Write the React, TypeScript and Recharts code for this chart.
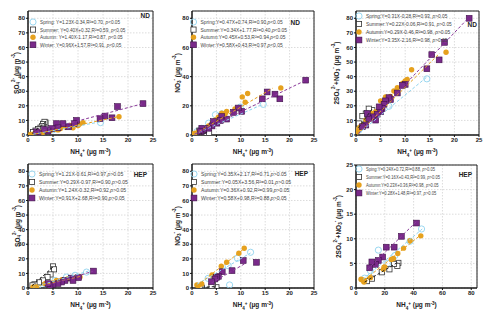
import React from "react";
import { ScatterChart, Scatter, XAxis, YAxis, CartesianGrid, ReferenceArea } from "recharts";

type Pt = [number, number];
type Season = "spring" | "summer" | "autumn" | "winter";
type Part = [string, ("sub" | "sup")?];

const SPRING = "#8fd3ee";
const SUMMER = "#333333";
const AUTUMN = "#e6a11e";
const WINTER = "#7a2a8a";
const WINTER_EDGE = "#3f1149";
const FONT = "'Liberation Sans', Arial, sans-serif";

const seasons: Season[] = ["spring", "summer", "autumn", "winter"];

// ND - SO4
const ndSo4Spring: Pt[] = [[14.5, 8.5], [7.5, 6], [6, 5], [5, 3.5], [4, 3], [3, 2.5], [2, 1.5], [1, 0.5]];
const ndSo4Summer: Pt[] = [[3.5, 8.5], [3.3, 9], [3, 7.5], [2.8, 6], [2.5, 5], [2, 4], [1.5, 3], [1, 2]];
const ndSo4Autumn: Pt[] = [[18.2, 12.5], [11, 8.5], [10.3, 7.5], [10, 6.5], [9, 5], [8.5, 6.5], [7.5, 5.5], [6.5, 4.5], [6, 3.5], [5.5, 4], [4.5, 3], [3.5, 2.5], [3, 1.8], [2.5, 2], [2, 1.5], [1.5, 1], [1, 0.5], [0.5, 0.3]];
const ndSo4Winter: Pt[] = [[23, 21.5], [17.9, 19.5], [16.8, 11.8], [15.4, 13], [14.4, 11.2], [9.7, 10], [9.3, 7.8], [8.1, 5.6], [7, 7.8], [5.7, 7.8], [6, 4.9], [4.7, 4.4], [4, 2.7], [3.3, 3.8], [2, 1.1], [1.7, 2.2]];

// ND - NO3
const ndNo3Spring: Pt[] = [[14.6, 21], [9.9, 19.2], [6.1, 14.5], [4.8, 13.9], [3.4, 8.1], [2, 4.6], [1, 2.3]];
const ndNo3Summer: Pt[] = [[1.5, 3], [2, 1], [2.5, 2], [3, 0.5], [3.5, 1.5]];
const ndNo3Autumn: Pt[] = [[18.2, 32.3], [11.4, 28.4], [10.3, 26.1], [10.9, 22.4], [8.8, 17.8], [7.1, 16.2], [6.8, 14.5], [6.1, 15], [5.4, 12.2], [4.8, 10.4], [4.1, 8.1], [3.4, 6.2], [2.4, 3.9], [1.4, 2.3], [0.7, 1.2], [0.1, 0.7]];
const ndNo3Winter: Pt[] = [[23.3, 37.6], [18, 24.8], [17, 28], [15.4, 29.5], [14.4, 24.8], [10.2, 16.2], [9.5, 18.5], [8.5, 15.5], [7.1, 10.9], [6.1, 12.7], [5.8, 9.9], [5.1, 8.1], [4.4, 9.2], [4.1, 6.2], [3.4, 4.6], [2.4, 3], [2, 4.6], [1.7, 2.3]];

// ND - 2SO4 + NO3
const ndSumSpring: Pt[] = [[14.4, 38.5], [9.8, 35], [6.7, 19.7], [5, 17], [2, 8.4], [0.6, 3.4]];
const ndSumSummer: Pt[] = [[3.3, 17], [2.6, 18], [2, 14.7], [1.3, 12.9], [0.6, 7.9]];
const ndSumAutumn: Pt[] = [[18.3, 56.7], [11.3, 44.7], [10.4, 38], [10, 37], [9.5, 35.5], [8.4, 32.4], [7.7, 30.2], [7, 26.5], [6, 26], [5, 23.4], [4.7, 19.3], [4, 15.9], [3.3, 14.7], [2.6, 12.5], [2, 10.2], [1.3, 6.8], [0.9, 5.7], [0.6, 4.5], [0.3, 2.3]];
const ndSumWinter: Pt[] = [[23, 80], [18, 63.5], [16.9, 51.5], [15.4, 55.1], [14.4, 45.4], [10, 34.7], [9.4, 34], [8.4, 28.8], [7, 24.3], [6.7, 25.6], [6, 23.4], [5.7, 21.1], [5.3, 18.1], [5, 15.9], [4.3, 14.3], [4, 10.2], [3.3, 12.5], [2.6, 11.3], [2, 6.8], [1.3, 5.7], [4.7, 19.3], [2.3, 14.7]];

// HEP - SO4
const hepSo4Spring: Pt[] = [[11.7, 10.9], [9.4, 8.7], [7.7, 7.5], [5.4, 5.2], [3.4, 3], [2, 1.8], [1.3, 0.7]];
const hepSo4Summer: Pt[] = [[5, 14.8], [5.2, 12.8], [4.5, 9.3], [3.9, 7.5], [3, 5.2], [2.2, 3.9], [1.3, 2.5], [0.9, 1.8]];
const hepSo4Autumn: Pt[] = [[10.4, 7.5], [9.1, 7.1], [8, 6.4], [6.8, 5.7], [5.7, 5.2], [5, 3.4], [3.4, 3], [1.7, 0.7], [1.3, 0.2], [1, 0.7]];
const hepSo4Winter: Pt[] = [[13.1, 11.6], [10.1, 7.1], [8.7, 6.8], [9, 5.2], [7.4, 5.2], [6.7, 4.1], [6, 3], [5, 2.5], [4.4, 1.8], [4, 3]];

// HEP - NO3
const hepNo3Spring: Pt[] = [[12, 24.5], [9.3, 20.4], [7.4, 15.3], [7.7, 2.1], [4.7, 7.3], [3.3, 6.6], [2, 0.5]];
const hepNo3Summer: Pt[] = [[5, 0.5], [4.3, 2.1], [4, 1.1], [2, 0.2]];
const hepNo3Autumn: Pt[] = [[10.7, 27.2], [9.6, 23.8], [7.1, 17.6], [6, 14.9], [4.1, 8.9], [2, 2.7], [1, 2.1], [1.3, 1.6]];
const hepNo3Winter: Pt[] = [[13.2, 17.6], [10.5, 18.8], [8.2, 11.9], [6.2, 11.2], [5.4, 8], [5, 7.3], [4.7, 6.2], [4, 4.3]];

// HEP - 2SO4 + NO3
const hepSumSpring: Pt[] = [[45.5, 12], [37.5, 9.5], [15.5, 7.7], [27, 6.6], [22, 5], [10, 3.5], [6, 2]];
const hepSumSummer: Pt[] = [[29.4, 5.1], [28.7, 4.5], [26.4, 4.9], [23.2, 3.8], [17.9, 3.2], [11, 1.9], [7.6, 1.4]];
const hepSumAutumn: Pt[] = [[45, 10.6], [37.5, 9.6], [33, 8.1], [29, 7], [26, 6], [24.5, 5.8], [20, 4.3], [19, 3.8], [10, 2.1], [5, 1.6], [4, 1.7], [5.5, 1.2], [3.5, 1.8], [6, 1.5]];
const hepSumWinter: Pt[] = [[42, 13.2], [31.5, 10.5], [26.5, 8.3], [21, 8.3], [18.5, 6.3], [15.5, 5.6], [13.5, 4.8], [11, 5.3], [9.5, 4.1]];

// fitted lines (end points)
const ndSo4Fits: Record<Season, Pt[]> = { spring: [[1, 0.5], [14.5, 9]], summer: [[0.8, 1], [3.5, 9]], autumn: [[0.5, 0], [18, 12.5]], winter: [[1, 1.5], [23, 21.5]] };
const ndNo3Fits: Record<Season, Pt[]> = { spring: [[0.5, 0.5], [14.5, 21]], summer: [[1.5, 0.5], [3.5, 2]], autumn: [[0.5, 0.5], [16.5, 32]], winter: [[0.5, 0.5], [23, 37]] };
const ndSumFits: Record<Season, Pt[]> = { spring: [[0.5, 1], [14.5, 40]], summer: [[0.5, 5], [3.3, 18]], autumn: [[0.3, 0.5], [17, 56]], winter: [[0.5, 1], [22.5, 79]] };
const hepSo4Fits: Record<Season, Pt[]> = { spring: [[1, 0.5], [12, 11.5]], summer: [[0.8, 1.5], [5.2, 15]], autumn: [[1, 0.5], [10.5, 8]], winter: [[4, 2], [13, 11.5]] };
const hepNo3Fits: Record<Season, Pt[]> = { spring: [[1, 2.5], [12, 24]], summer: [[2, 0.5], [5, 1]], autumn: [[1, 1.5], [10.7, 27]], winter: [[4, 3.5], [11, 17]] };
const hepSumFits: Record<Season, Pt[]> = { spring: [[5, 1.8], [46, 12]], summer: [[6, 1.2], [30, 5.4]], autumn: [[4, 1.2], [45, 10.8]], winter: [[8, 3.8], [42, 13.5]] };

const ndSo4Legend = ["Spring: Y=1.23X-0.34,R²=0.70, p<0.05", "Summer: Y=0.40X+0.32,R²=0.59, p<0.05", "Autumn: Y=1.40X-1.17,R²=0.87, p<0.05", "Winter: Y=0.96X+1.57,R²=0.91, p<0.05"];
const ndNo3Legend = ["Spring:Y=0.47X+0.74,R²=0.90,p<0.05", "Summer:Y=0.34X+1.77,R²=0.40,p<0.05", "Autumn:Y=0.45X+0.53,R²=0.94,p<0.05", "Winter:Y=0.58X+0.43,R²=0.97,p<0.05"];
const ndSumLegend = ["Spring:Y=0.31X-0.28,R²=0.93, p>0.05", "Summer:Y=0.22X-0.06,R²=0.91, p>0.05", "Autumn:Y=0.29X-0.46,R²=0.98, p>0.05", "Winter:Y=3.35X-2.16,R²=0.98, p>0.05"];
const hepSo4Legend = ["Spring:Y=1.21X-0.61,R²=0.97,p>0.05", "Summer:Y=0.29X-0.97,R²=0.90,p>0.05", "Autumn:Y=1.24X-0.32,R²=0.92,p>0.05", "Winter:Y=0.91X+2.68,R²=0.90,p>0.05"];
const hepNo3Legend = ["Spring:Y=0.35X+2.17,R²=0.71,p>0.05", "Summer:Y=0.05X+3.56,R²=0.01,p>0.05", "Autumn:Y=0.36X+0.92,R²=0.99,p>0.05", "Winter:Y=0.58X+0.98,R²=0.88,p>0.05"];
const hepSumLegend = ["Sping:Y=0.24X+0.72,R²=0.88, p>0.05", "Summer:Y=0.16X+0.43,R²=0.99, p>0.05", "Autumn:Y=0.23X+0.36,R²=0.98, p>0.05", "Winter:Y=0.28X+1.48,R²=0.97, p>0.05"];

const ticks25 = [0, 5, 10, 15, 20, 25];
const ticks80 = [0, 10, 20, 30, 40, 50, 60, 70, 80];
const ticks80by20 = [0, 20, 40, 60, 80];

const so4Title: Part[] = [["SO"], ["4", "sub"], ["2-", "sup"], [" (μg m"], ["-3", "sup"], [")"]];
const no3Title: Part[] = [["NO"], ["3", "sub"], ["-", "sup"], [" (μg m"], ["-3", "sup"], [")"]];
const sumTitle: Part[] = [["2SO"], ["4", "sub"], ["2-", "sup"], ["+NO"], ["3", "sub"], ["-", "sup"], [" (μg m"], ["-3", "sup"], [")"]];
const nh4Title: Part[] = [["NH"], ["4", "sub"], ["+", "sup"], [" (μg m"], ["-3", "sup"], [")"]];

const lineColor: Record<Season, string> = { spring: SPRING, summer: "#222", autumn: AUTUMN, winter: "#8a3a9a" };

const drawMark = (s: Season, cx: number, cy: number) => {
  if (s === "spring") return <circle cx={cx} cy={cy} r={3.1} fill="none" stroke={SPRING} strokeWidth={0.9} />;
  if (s === "summer") return <rect x={cx - 2.6} y={cy - 2.6} width={5.2} height={5.2} fill="#fff" stroke={SUMMER} strokeWidth={0.8} />;
  if (s === "autumn") return <circle cx={cx} cy={cy} r={2.7} fill={AUTUMN} />;
  return <rect x={cx - 2.9} y={cy - 2.9} width={5.8} height={5.8} fill={WINTER} stroke={WINTER_EDGE} strokeWidth={0.6} />;
};

const toXY = (pts: Pt[]) => pts.map(([x, y]) => ({ x, y }));

interface PanelCfg {
  left: number;
  top: number;
  width: number;
  yAxisWidth: number;
  marginTop: number;
  marginRight: number;
  marginBottom: number;
  xMax: number;
  xTicks: number[];
  yMax: number;
  yTicks: number[];
  points: Record<Season, Pt[]>;
  fits: Record<Season, Pt[]>;
  legend: string[];
  legendX: number;
  legendY: number;
  legendGap: number;
  legendFont: number;
  legendSqueeze?: number;
  tag: string;
  tagX: number;
  tagY: number;
  yTitle: Part[];
  yTitleX: number;
}

const panels: PanelCfg[] = [
  {
    left: 0, top: 0, width: 160, yAxisWidth: 28, marginTop: 11, marginRight: 7, marginBottom: 5,
    xMax: 25, xTicks: ticks25, yMax: 85, yTicks: ticks80,
    points: { spring: ndSo4Spring, summer: ndSo4Summer, autumn: ndSo4Autumn, winter: ndSo4Winter },
    fits: ndSo4Fits, legend: ndSo4Legend, legendX: 33, legendY: 22, legendGap: 7.6, legendFont: 4.7,
    tag: "ND", tagX: 150, tagY: 15, yTitle: so4Title, yTitleX: 16,
  },
  {
    left: 160, top: 0, width: 160, yAxisWidth: 32, marginTop: 11, marginRight: 6, marginBottom: 5,
    xMax: 25, xTicks: ticks25, yMax: 85, yTicks: ticks80by20,
    points: { spring: ndNo3Spring, summer: ndNo3Summer, autumn: ndNo3Autumn, winter: ndNo3Winter },
    fits: ndNo3Fits, legend: ndNo3Legend, legendX: 193.5, legendY: 22, legendGap: 7.6, legendFont: 4.9,
    tag: "ND", tagX: 300, tagY: 22, yTitle: no3Title, yTitleX: 177,
  },
  {
    left: 320, top: 0, width: 180, yAxisWidth: 36, marginTop: 11, marginRight: 21, marginBottom: 5,
    xMax: 25, xTicks: ticks25, yMax: 85, yTicks: ticks80,
    points: { spring: ndSumSpring, summer: ndSumSummer, autumn: ndSumAutumn, winter: ndSumWinter },
    fits: ndSumFits, legend: ndSumLegend, legendX: 359, legendY: 16, legendGap: 8, legendFont: 4.85,
    tag: "ND", tagX: 477, tagY: 24, yTitle: sumTitle, yTitleX: 336,
  },
  {
    left: 0, top: 152, width: 160, yAxisWidth: 28, marginTop: 12, marginRight: 7, marginBottom: 4,
    xMax: 25, xTicks: ticks25, yMax: 85, yTicks: ticks80,
    points: { spring: hepSo4Spring, summer: hepSo4Summer, autumn: hepSo4Autumn, winter: hepSo4Winter },
    fits: hepSo4Fits, legend: hepSo4Legend, legendX: 32, legendY: 174, legendGap: 8, legendFont: 5.1,
    tag: "HEP", tagX: 147, tagY: 174, yTitle: so4Title, yTitleX: 17,
  },
  {
    left: 160, top: 152, width: 160, yAxisWidth: 32, marginTop: 12, marginRight: 6, marginBottom: 4,
    xMax: 25, xTicks: ticks25, yMax: 85, yTicks: ticks80,
    points: { spring: hepNo3Spring, summer: hepNo3Summer, autumn: hepNo3Autumn, winter: hepNo3Winter },
    fits: hepNo3Fits, legend: hepNo3Legend, legendX: 194, legendY: 174, legendGap: 8, legendFont: 5.1,
    tag: "HEP", tagX: 308, tagY: 173, yTitle: no3Title, yTitleX: 177,
  },
  {
    left: 320, top: 152, width: 180, yAxisWidth: 36, marginTop: 13, marginRight: 23, marginBottom: 4,
    xMax: 84, xTicks: ticks80by20, yMax: 25, yTicks: ticks25,
    points: { spring: hepSumSpring, summer: hepSumSummer, autumn: hepSumAutumn, winter: hepSumWinter },
    fits: hepSumFits, legend: hepSumLegend, legendX: 359, legendY: 169, legendGap: 8, legendFont: 4.8,
    legendSqueeze: 0.86,
    tag: "HEP", tagX: 472, tagY: 174, yTitle: sumTitle, yTitleX: 338,
  },
];

const CHART_H = 160;
const X_AXIS_H = 20;
const tickStyle = { fontSize: 6, fontWeight: 700, fill: "#222", fontFamily: FONT };

function Title({ parts, ...rest }: { parts: Part[] } & React.SVGProps<SVGTextElement>) {
  return (
    <text fontSize={6.5} fontWeight={700} fill="#222" textAnchor="middle" {...rest}>
      {parts.map(([t, k], i) =>
        k ? (
          <tspan key={i} fontSize={4.6} baselineShift={k === "sub" ? "sub" : "super"}>{t}</tspan>
        ) : (
          <tspan key={i}>{t}</tspan>
        )
      )}
    </text>
  );
}

function LegendRow({ x, y, text, size, squeeze = 1 }: { x: number; y: number; text: string; size: number; squeeze?: number }) {
  const bits = text.split(/(p)(?=[<>])/);
  return (
    <text
      x={0}
      y={0}
      transform={`translate(${x} ${y}) scale(${squeeze} 1)`}
      fontSize={size}
      fill="#444"
      dominantBaseline="central"
    >
      {bits.map((b, i) => (b === "p" ? <tspan key={i} fontStyle="italic">p</tspan> : <tspan key={i}>{b}</tspan>))}
    </text>
  );
}

function Panel({ cfg }: { cfg: PanelCfg }) {
  return (
    <div style={{ position: "absolute", left: cfg.left, top: cfg.top }}>
      <ScatterChart
        width={cfg.width}
        height={CHART_H}
        margin={{ top: cfg.marginTop, right: cfg.marginRight, bottom: cfg.marginBottom, left: 0 }}
      >
        <CartesianGrid stroke="#dcdcdc" strokeDasharray="1.5 1.5" />
        <XAxis
          type="number"
          dataKey="x"
          domain={[0, cfg.xMax]}
          ticks={cfg.xTicks}
          interval={0}
          height={X_AXIS_H}
          tickSize={2}
          tickMargin={1}
          tick={tickStyle}
          axisLine={{ stroke: "#111" }}
          tickLine={{ stroke: "#111" }}
          allowDataOverflow
        />
        <YAxis
          type="number"
          dataKey="y"
          domain={[0, cfg.yMax]}
          ticks={cfg.yTicks}
          interval={0}
          width={cfg.yAxisWidth}
          tickSize={2}
          tickMargin={1}
          tick={tickStyle}
          axisLine={{ stroke: "#111" }}
          tickLine={{ stroke: "#111" }}
          allowDataOverflow
        />
        {seasons.map((s) => (
          <Scatter
            key={s}
            data={toXY(cfg.points[s])}
            shape={(p: any) => drawMark(s, p.cx, p.cy)}
            isAnimationActive={false}
          />
        ))}
        {seasons.map((s) => (
          <Scatter
            key={"fit-" + s}
            data={toXY(cfg.fits[s])}
            line={{ stroke: lineColor[s], strokeDasharray: "3 2", strokeWidth: 1 }}
            shape={() => <g />}
            isAnimationActive={false}
          />
        ))}
        <ReferenceArea
          x1={0}
          x2={cfg.xMax}
          y1={0}
          y2={cfg.yMax}
          fill="none"
          fillOpacity={0}
          stroke="#222"
          strokeWidth={1}
          ifOverflow="visible"
        />
      </ScatterChart>
    </div>
  );
}

function Overlay() {
  return (
    <svg
      width={500}
      height={314}
      style={{ position: "absolute", left: 0, top: 0, pointerEvents: "none" }}
      fontFamily={FONT}
    >
      {panels.map((cfg, i) => {
        const plotLeft = cfg.left + cfg.yAxisWidth;
        const plotRight = cfg.left + cfg.width - cfg.marginRight;
        const plotTop = cfg.top + cfg.marginTop;
        const plotBottom = cfg.top + CHART_H - cfg.marginBottom - X_AXIS_H;
        const midX = (plotLeft + plotRight) / 2;
        const midY = (plotTop + plotBottom) / 2;
        return (
          <g key={i}>
            {cfg.legend.map((t, j) => {
              const y = cfg.legendY + j * cfg.legendGap;
              return (
                <g key={j}>
                  {drawMark(seasons[j], cfg.legendX, y)}
                  <LegendRow x={cfg.legendX + 7} y={y} text={t} size={cfg.legendFont} squeeze={cfg.legendSqueeze} />
                </g>
              );
            })}
            <text
              x={cfg.tagX}
              y={cfg.tagY}
              textAnchor="end"
              dominantBaseline="central"
              fontSize={6.5}
              fontWeight={700}
              fill="#222"
            >
              {cfg.tag}
            </text>
            <Title parts={nh4Title} x={midX} y={plotBottom + 19} />
            <Title
              parts={cfg.yTitle}
              x={cfg.yTitleX}
              y={midY}
              dominantBaseline="central"
              transform={`rotate(-90 ${cfg.yTitleX} ${midY})`}
            />
          </g>
        );
      })}
    </svg>
  );
}

export default function App() {
  return (
    <div style={{ position: "absolute", left: 0, top: 0, width: 500, height: 314, background: "#fff", fontFamily: FONT }}>
      {panels.map((cfg, i) => (
        <Panel key={i} cfg={cfg} />
      ))}
      <Overlay />
    </div>
  );
}
